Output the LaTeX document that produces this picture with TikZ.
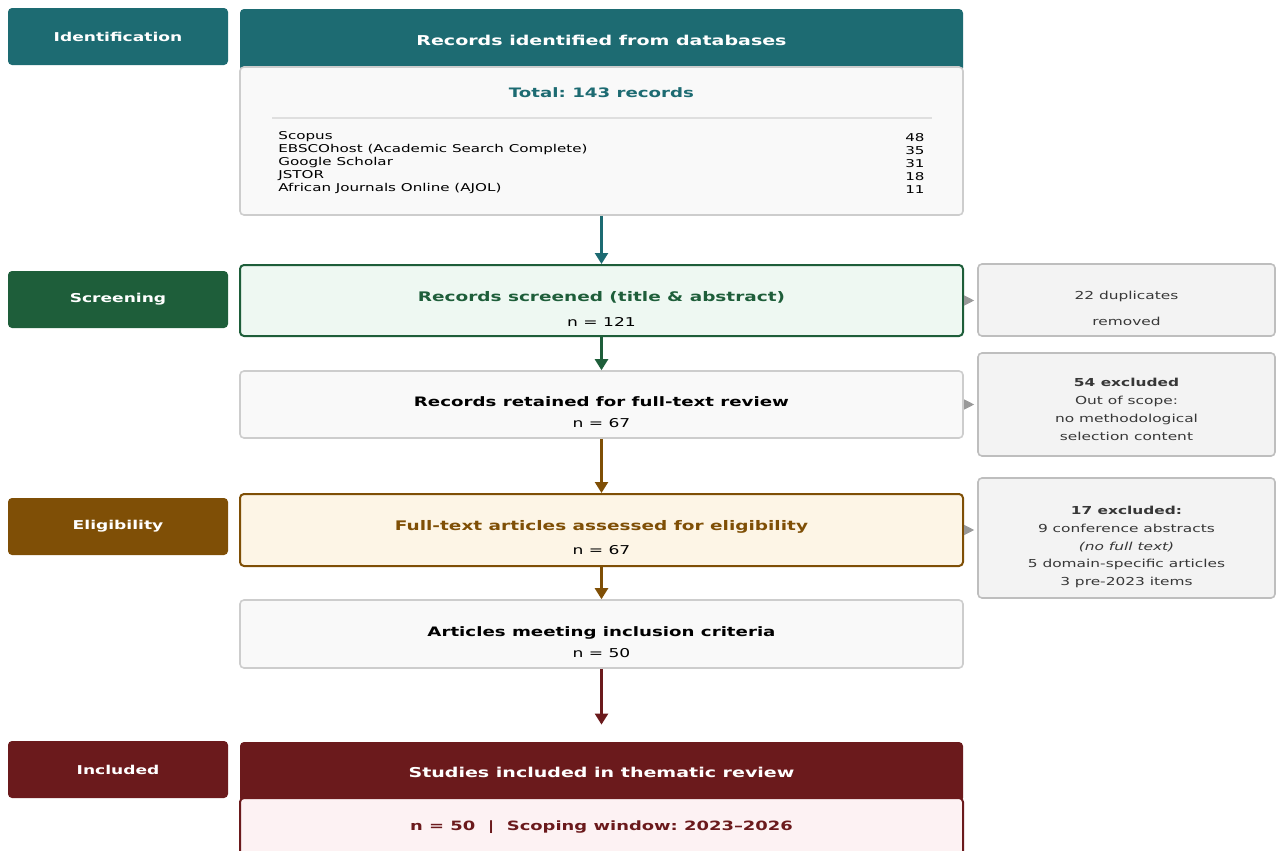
\documentclass[tikz,border=0pt]{standalone}
\usepackage{fontspec}
\setmainfont{DejaVu Sans}[FakeStretch=1.4]
\usetikzlibrary{arrows.meta}
\frenchspacing

\definecolor{tealc}{RGB}{29,107,114}
\definecolor{greenc}{RGB}{30,94,58}
\definecolor{greenf}{RGB}{238,248,242}
\definecolor{brownc}{RGB}{127,79,6}
\definecolor{brownf}{RGB}{253,245,230}
\definecolor{redc}{RGB}{107,26,28}
\definecolor{redf}{RGB}{253,242,243}
\definecolor{grayf}{RGB}{249,249,249}
\definecolor{grayd}{RGB}{205,205,205}
\definecolor{sidef}{RGB}{243,243,243}
\definecolor{sided}{RGB}{190,190,190}
\definecolor{sidet}{RGB}{55,55,55}

\newcommand{\boxttl}[3][6.6]{\textcolor{#2}{\fontsize{#1}{8}\selectfont\bfseries #3}}

\begin{document}
\begin{tikzpicture}[x=0.5pt,y=-0.5pt,
  stage/.style={fill=#1, rounded corners=2pt, text=white,
    minimum width=110pt, minimum height=28.5pt,
    font=\fontsize{6.1}{7}\selectfont\bfseries},
  mainbox/.style={draw=#1, line width=1pt, rounded corners=2pt,
    minimum width=361.5pt, inner sep=0pt},
  plainbox/.style={draw=grayd, fill=grayf, line width=0.8pt, rounded corners=2pt,
    minimum width=361.5pt, inner sep=0pt},
  sidebox/.style={draw=sided, fill=sidef, line width=0.8pt, rounded corners=2pt,
    minimum width=148.5pt, inner sep=0pt},
  boxtext/.style={align=center, inner sep=0pt},
  sidetext/.style={align=center, inner sep=0pt, text=sidet},
  head/.style={fill=#1, rounded corners=2pt, text=white,
    minimum width=361.5pt, inner sep=0pt,
    font=\fontsize{6.8}{8}\selectfont\bfseries},
  flow/.style={draw=#1, line width=1.2pt, -{Triangle[width=6.5pt,length=5.5pt]}},
  skip/.style={draw=gray!80, line width=0.5pt,
    -{Triangle[width=5pt,length=5pt]}, shorten >=1.5pt}]
  \useasboundingbox (0,0) rectangle (1276,851);

  % Etapas.
  \node[stage=tealc] (sid) at (118,36.5) {Identification};
  \node[stage=greenc] (sscr) at (118,299.5) {Screening};
  \node[stage=brownc] (selig) at (118,526.5) {Eligibility};
  \node[stage=redc] (sinc) at (118,769.5) {Included};

  % Identificação.
  \node[head=tealc, minimum height=31.5pt] (idhead) at (601.5,40.5)
    {Records identified from databases};
  \node[plainbox, minimum height=74pt] (idbody) at (601.5,141) {};
  \node[text=tealc, font=\fontsize{6.5}{8}\selectfont\bfseries] (total)
    at (601.5,93) {Total: 143 records};
  \draw[gray!25, line width=0.6pt] (272,118) -- (932,118);
  \node[anchor=west, align=left, inner sep=0pt,
    font=\fontsize{5.4}{6.5}\selectfont] (dbnames) at (278,163)
    {Scopus\\EBSCOhost (Academic Search Complete)\\Google Scholar\\JSTOR\\African Journals Online (AJOL)};
  \node[anchor=east, align=right, inner sep=0pt,
    font=\fontsize{5.4}{6.5}\selectfont] (dbcounts) at (925,163)
    {48\\35\\31\\18\\11};

  % Triagem.
  \node[mainbox=greenc, fill=greenf, minimum height=35.5pt] (screen)
    at (601.5,300.5) {};
  \node[boxtext, font=\fontsize{6.1}{12.5}\selectfont] (screentxt)
    at ([yshift=-4pt]screen.center)
    {\boxttl{greenc}{Records screened (title \& abstract)}\\n = 121};
  \node[sidebox, minimum height=36pt] (dup) at (1126.5,300) {};
  \node[sidetext, font=\fontsize{5.5}{13}\selectfont] (duptxt)
    at ([yshift=-4pt]dup.center) {22 duplicates\\removed};
  \node[plainbox, minimum height=33.5pt] (retain) at (601.5,404.5) {};
  \node[boxtext, font=\fontsize{6.1}{10.5}\selectfont] (retaintxt)
    at ([yshift=-4pt]retain.center)
    {\boxttl[6.5]{black}{Records retained for full-text review}\\n = 67};
  \node[sidebox, minimum height=51.5pt] (scope) at (1126.5,404.5) {};
  \node[sidetext, font=\fontsize{5.5}{9}\selectfont] (scopetxt)
    at ([yshift=-2.5pt]scope.center)
    {\textbf{54 excluded}\\Out of scope:\\no methodological\\selection content};

  % Elegibilidade.
  \node[mainbox=brownc, fill=brownf, minimum height=36pt] (elig)
    at (601.5,530) {};
  \node[boxtext, font=\fontsize{6.1}{12}\selectfont] (eligtxt)
    at ([yshift=-4pt]elig.center)
    {\boxttl{brownc}{Full-text articles assessed for eligibility}\\n = 67};
  \node[sidebox, minimum height=60pt] (excl) at (1126.5,538) {};
  \node[sidetext, font=\fontsize{5.5}{8.9}\selectfont] (excltxt)
    at ([yshift=-4.5pt]excl.center)
    {\textbf{17 excluded:}\\9 conference abstracts\\\textit{(no full text)}\\5 domain-specific articles\\3 pre-2023 items};
  \node[plainbox, minimum height=34pt] (meet) at (601.5,634) {};
  \node[boxtext, font=\fontsize{6.1}{10.5}\selectfont] (meettxt)
    at ([yshift=-4pt]meet.center)
    {\boxttl[6.5]{black}{Articles meeting inclusion criteria}\\n = 50};

  % Incluídos.
  \node[head=redc, minimum height=30pt] (inchead) at (601.5,772)
    {Studies included in thematic review};
  \node[mainbox=redc, fill=redf, minimum height=29pt] (incbody) at (601.5,827)
    {\boxttl[6.4]{redc}{n = 50~~|~~Scoping window: 2023--2026}};

  % Fluxo principal.
  \draw[flow=tealc] (idbody) -- (screen);
  \draw[flow=greenc] (screen) -- (retain);
  \draw[flow=brownc] (retain) -- (elig);
  \draw[flow=brownc] (elig) -- (meet);
  \draw[flow=redc, shorten >=8.5pt] (meet) -- (inchead);

  % Exclusões.
  \draw[skip] (screen.east) -- (screen.east -| dup.west);
  \draw[skip] (retain.east) -- (retain.east -| scope.west);
  \draw[skip] (elig.east) -- (elig.east -| excl.west);
\end{tikzpicture}
\end{document}
